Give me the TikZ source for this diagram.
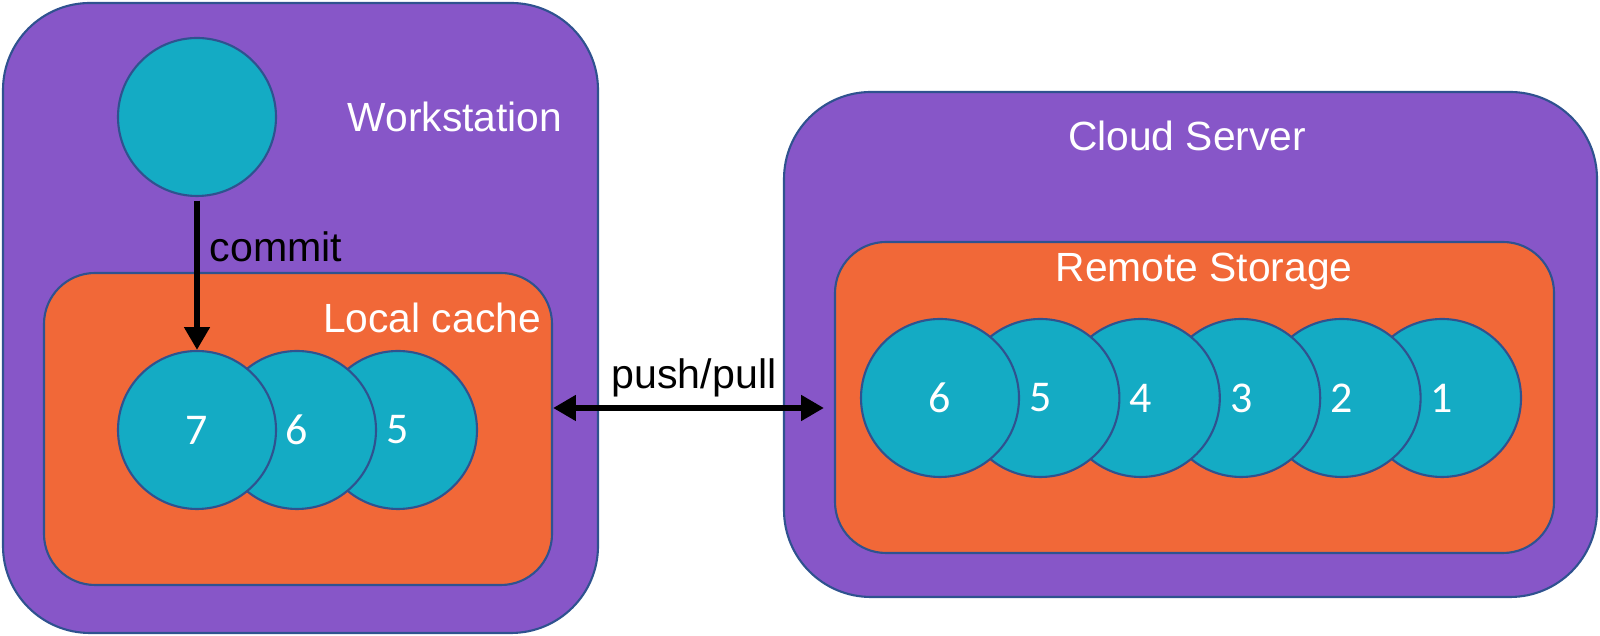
\documentclass[tikz,border=0pt]{standalone}
\usepackage{fontspec}
\setmainfont{Liberation Sans}
\newfontfamily\numfont{Carlito}
\usepackage{tikz}
\usetikzlibrary{arrows.meta}

\definecolor{hostpurple}{RGB}{135,86,200}
\definecolor{storeorange}{RGB}{241,104,56}
\definecolor{committeal}{RGB}{20,171,196}
\definecolor{edgeblue}{RGB}{47,82,143}

\tikzset{
  hostbox/.style={draw=edgeblue,line width=0.6pt,fill=hostpurple,rounded corners=0.87cm,inner sep=0pt},
  storebox/.style={draw=edgeblue,line width=0.6pt,fill=storeorange,rounded corners=0.51cm,inner sep=0pt},
  commitnode/.style={circle,draw=edgeblue,line width=0.6pt,fill=committeal,minimum size=1.58cm,inner sep=0pt,text=white,font=\numfont\fontsize{12.5}{14}\selectfont},
  boxlabel/.style={text=white,font=\fontsize{11.6}{14}\selectfont,inner sep=0pt},
  flow/.style={line width=1.7pt,{Triangle[length=6.5pt,width=7pt]}-{Triangle[length=6.5pt,width=7pt]}}
}

\begin{document}
\begin{tikzpicture}
    \useasboundingbox (0,0) rectangle (16,6.36);
    % boxes
    \node[hostbox,minimum width=5.95cm,minimum height=6.30cm] (ws) at (3.005,3.18) {};
    \node[hostbox,minimum width=8.13cm,minimum height=5.05cm] (cloud) at (11.905,2.915) {};
    \node[storebox,minimum width=5.08cm,minimum height=3.12cm] (cache) at (2.98,2.07) {};
    \node[storebox,minimum width=7.19cm,minimum height=3.11cm] (remote) at (11.945,2.385) {};
    % labels
    \node[boxlabel] (wslabel) at (4.55,5.19) {Workstation};
    \node[boxlabel] (cloudlabel) at (11.87,5.00) {Cloud Server};
    \node[boxlabel] (cachelabel) at (4.32,3.18) {Local cache};
    \node[boxlabel] (remotelabel) at (12.04,3.64) {Remote Storage};
    % commits
    \node[commitnode] (work) at (1.97,5.19) {};
    \foreach \i/\x in {5/3.98,6/2.97,7/1.97}
        \node[commitnode] (c\i) at (\x,2.06) {\i};
    \foreach \i in {1,...,6}
        \node[commitnode] (r\i) at ({14.42-(\i-1)*1.004},2.38) {\i};
    % arrows
    \draw[line width=1.7pt,-{Triangle[length=6.5pt,width=7pt]},shorten <=1pt] (work) -- (c7);
    \node[anchor=west,inner sep=0pt,font=\fontsize{11.7}{14}\selectfont] (commitlabel) at (2.09,3.89) {commit};
    \coordinate (pp) at (6.9,2.28);
    \draw[flow,shorten >=0.1cm] (cache.east |- pp) -- (remote.west |- pp);
    \node[inner sep=0pt,font=\fontsize{11.7}{14}\selectfont] (pplabel) at (6.94,2.58) {push/pull};
\end{tikzpicture}
\end{document}
